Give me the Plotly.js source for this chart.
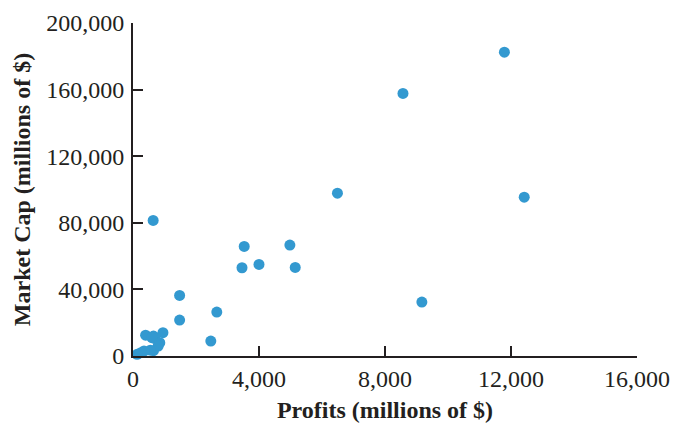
<!DOCTYPE html>
<html>
<head>
<meta charset="utf-8">
<script src="https://cdn.plot.ly/plotly-3.0.1.min.js"></script>
<style>html,body{margin:0;padding:0;background:#fff}#chart{width:673px;height:423px}</style>
</head>
<body>
<div id="chart"></div>
<script>
const profits = [640, 6490, 12420, 3530, 4980, 3460, 4000, 5150, 1480, 2660, 9170, 1480, 2470, 11790, 8570,
  950, 400, 650, 700, 600, 850, 800, 650, 550, 350, 250, 130];
const marketCap = [81400, 97800, 95400, 65800, 66600, 53000, 55000, 53200, 36400, 26400, 32400, 21600, 9000, 182500, 157700,
  14000, 12500, 12000, 10500, 11000, 8000, 6000, 3200, 3500, 3000, 2000, 1000];
const xTicks = [0, 4000, 8000, 12000, 16000];
const yTicks = [0, 40000, 80000, 120000, 160000, 200000];

const serif = "Liberation Serif, Times New Roman, serif";
const trace = {
  x: profits, y: marketCap, type: 'scatter', mode: 'markers',
  marker: {color: '#3399d0', size: 11},
  cliponaxis: false, hoverinfo: 'skip'
};
const axisCommon = {
  showline: true, linecolor: '#231f20', linewidth: 2,
  ticks: 'inside', ticklen: 10, tickwidth: 2, tickcolor: '#231f20',
  showgrid: false, zeroline: false, tickformat: ',d',
  tickfont: {family: serif, size: 24, color: '#231f20'}
};
const layout = {
  width: 673, height: 423,
  margin: {l: 132.5, r: 36, t: 22.5, b: 67},
  paper_bgcolor: '#fff', plot_bgcolor: '#fff',
  showlegend: false,
  xaxis: Object.assign({}, axisCommon, {
    range: [0, 16000], tickvals: xTicks,
    title: {text: '<b>Profits (millions of $)</b>', font: {family: serif, size: 24, color: '#231f20'}, standoff: 10}
  }),
  yaxis: Object.assign({}, axisCommon, {
    range: [0, 200000], tickvals: yTicks, ticklabelstandoff: 2,
    title: {text: '<b>Market Cap (millions of $)</b>', font: {family: serif, size: 24, color: '#231f20'}, standoff: 9}
  })
};
Plotly.newPlot('chart', [trace], layout, {staticPlot: true, displayModeBar: false});
</script>
</body>
</html>
